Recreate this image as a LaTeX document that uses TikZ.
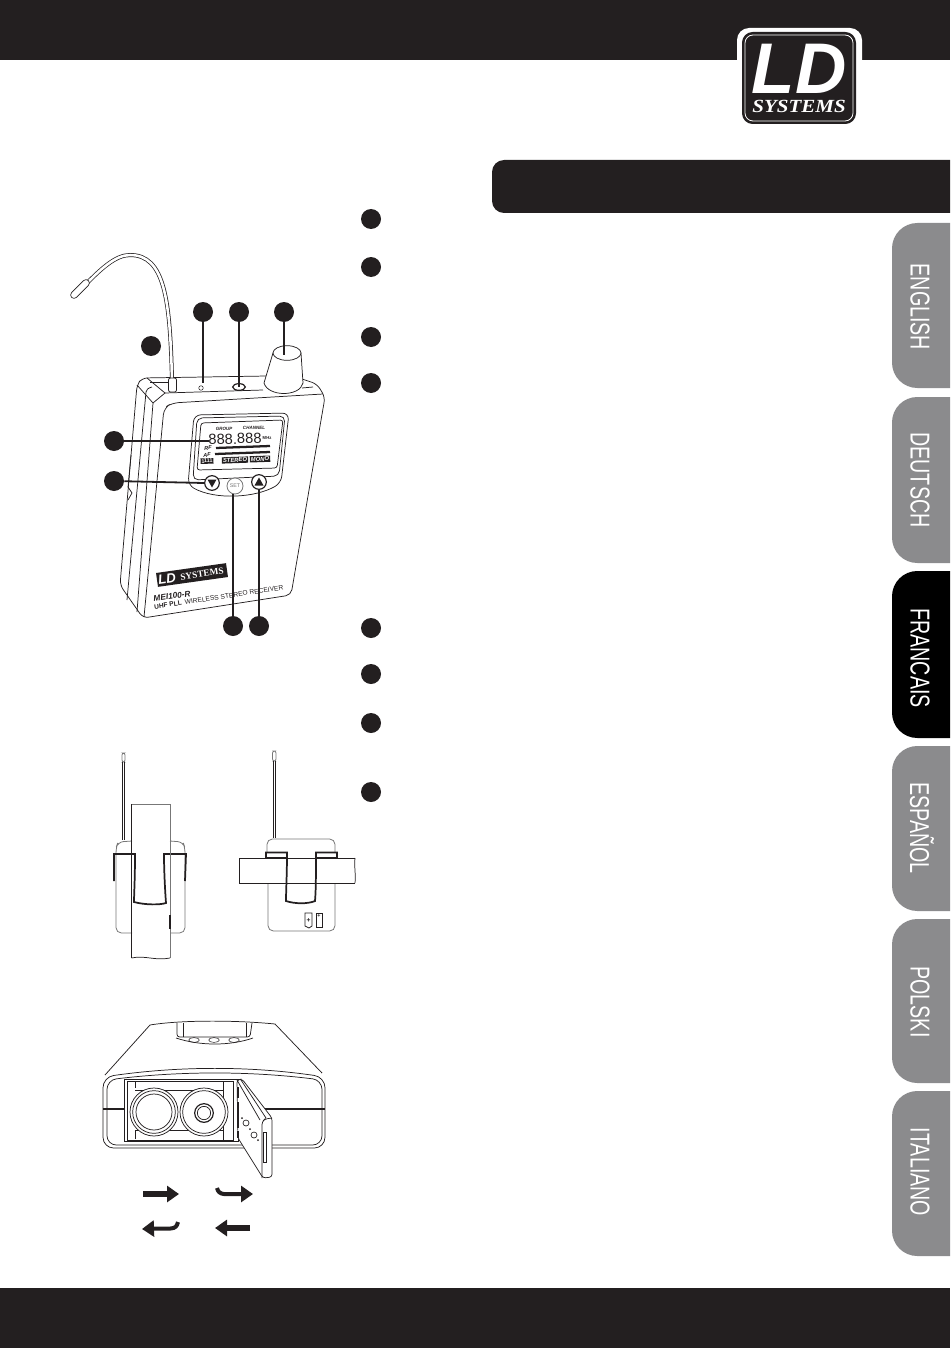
\documentclass[tikz,border=0pt]{standalone}
\usepackage{fontspec}
\setmainfont{Liberation Sans}
\newfontfamily\serifface{Liberation Serif}
\usetikzlibrary{positioning, calc, arrows.meta, shapes.geometric}
\definecolor{ink}{HTML}{231F20}
\definecolor{tabgray}{HTML}{8B8B8D}
\definecolor{wiregray}{HTML}{777777}
\tikzset{bullet/.style={circle, fill=ink, minimum size=15pt, inner sep=0pt}}
\tikzset{leader/.style={draw=ink, line width=1.35pt}}
\tikzset{thinline/.style={draw=ink, line width=.55pt}}
\tikzset{grayline/.style={draw=wiregray, line width=.6pt}}
\tikzset{clipline/.style={draw=ink, line width=1.3pt}}
\tikzset{tablabel/.style={rotate=-90, inner sep=0pt, text=white}}
\tikzset{tiny/.style={inner sep=0pt, text=ink}}
\tikzset{blockarrow/.style={draw=ink, line width=4pt, -{Triangle[length=9pt, width=12pt]}}}
\tikzset{hookarrow/.style={draw=ink, line width=3pt, -{Triangle[length=9pt, width=12pt]}}}
\newcommand{\tabword}[1]{\scalebox{.72}[1]{\fontsize{20.5}{20.5}\selectfont #1}}
\newcommand{\sizedtext}[2]{\fontsize{#1}{#1}\selectfont #2}

\begin{document}
\begin{tikzpicture}[x=.75pt, y=-.75pt]
      \useasboundingbox (0,0) rectangle (950,1348);

      % bars
      \fill[ink] (0,0) rectangle (950,60);
      \fill[ink] (0,1288) rectangle (950,1348);
      \fill[ink] (950,160) [rounded corners=9pt] -- (492,160) -- (492,213) [sharp corners] -- (950,213) -- cycle;

      % logo
      \fill[white, rounded corners=9pt] (737,28) rectangle (862,129);
      \fill[ink, rounded corners=8pt] (742,32) rectangle (856,124);
      \draw[white, line width=.6pt, rounded corners=6pt] (745,35) rectangle (853,121);
      \node[inner sep=0pt, text=white] (logold) at (799,68.5) {\resizebox{71pt}{37pt}{\bfseries\itshape LD}};
      \node[inner sep=0pt, text=white, below=5pt of logold] (logosys) {\resizebox{70pt}{9.2pt}{\serifface\bfseries\itshape SYSTEMS}};

      % language tabs
      \fill[tabgray] (950,223) [rounded corners=19pt] -- (892,223) -- (892,388) [sharp corners] -- (950,388) -- cycle;
      \fill[tabgray] (950,397) [rounded corners=19pt] -- (892,397) -- (892,563) [sharp corners] -- (950,563) -- cycle;
      \fill[black] (950,571) [rounded corners=19pt] -- (892,571) -- (892,738) [sharp corners] -- (950,738) -- cycle;
      \fill[tabgray] (950,746) [rounded corners=19pt] -- (892,746) -- (892,911) [sharp corners] -- (950,911) -- cycle;
      \fill[tabgray] (950,919) [rounded corners=19pt] -- (892,919) -- (892,1083) [sharp corners] -- (950,1083) -- cycle;
      \fill[tabgray] (950,1091) [rounded corners=19pt] -- (892,1091) -- (892,1256) [sharp corners] -- (950,1256) -- cycle;
      \node[tablabel] (tab0) at (920,307) {\tabword{ENGLISH}};
      \node[tablabel] (tab1) at (920,480) {\tabword{DEUTSCH}};
      \node[tablabel] (tab2) at (920,658) {\tabword{FRANCAIS}};
      \node[tablabel] (tab3) at (922,828) {\tabword{ESPAÑOL}};
      \node[tablabel] (tab4) at (920,1002) {\tabword{POLSKI}};
      \node[tablabel] (tab5) at (920,1172) {\tabword{ITALIANO}};

      % right column of markers
      \node[bullet] (r0) at (371,219) {};
      \node[bullet] (r1) at (371,267) {};
      \node[bullet] (r2) at (371,337) {};
      \node[bullet] (r3) at (371,383) {};
      \node[bullet] (r4) at (371,628) {};
      \node[bullet] (r5) at (371,674) {};
      \node[bullet] (r6) at (371,723) {};
      \node[bullet] (r7) at (371,792) {};

      % receiver body
      \draw[thinline, rounded corners=4pt] (267,376) -- (142,378) -- (137,385) -- (120,585) -- (143,618) -- (291,595) -- (325,397) -- (317,384) -- (302,379);
      \draw[thinline] (131,455) -- (128,487) -- (132,493) -- (128,500);
      \draw[thinline] (152,387) .. controls (148,388) and (146,390) .. (146,392) -- (127,600);
      \draw[thinline] (137,385) -- (153,403) -- (137,612);
      \draw[thinline, rounded corners=5pt] (144,617) -- (164,408) -- (172,403) -- (323,394);
      \draw[thinline] (147,378) -- (165,393) -- (153,403);
      \draw[thinline] (165,393) -- (263,390);
      \draw[thinline] (150,382) -- (168,382);
      \draw[thinline] (302,388) -- (313,387);

      % antenna
      \draw[ink, line width=3pt] (172,380) .. controls (170,300) and (165,255) .. (130,255) .. controls (115,255) and (100,270) .. (85,285);
      \draw[white, line width=1.9pt] (172,381) .. controls (170,300) and (165,255) .. (130,255) .. controls (115,255) and (100,270) .. (85,285);
      \draw[ink, line width=5.6pt, line cap=round] (74,295) -- (86,283);
      \draw[white, line width=4.4pt, line cap=round] (74,295) -- (86,283);
      \draw[thinline, fill=white, rounded corners=1.5pt] (168.5,378) -- (168.5,392) -- (176.5,392) -- (176.5,378) -- cycle;

      % top of receiver
      \node[circle, draw=ink, inner sep=1.2pt] (hole) at (201,388) {};
      \node[ellipse, draw=ink, line width=.9pt, minimum width=9.5pt, minimum height=5pt, inner sep=0pt] (jack) at (239,387) {};
      \draw[thinline, fill=white] (264,383) -- (273,353) -- (301,353) -- (303,383) .. controls (300,397) and (268,397) .. (264,383) -- cycle;
      \node[ellipse, draw=ink, fill=white, line width=.55pt, minimum width=21pt, minimum height=11pt, inner sep=0pt] (knob) at (287,353) {};

      % control panel
      \draw[thinline, rounded corners=5pt] (194,415) -- (289,413) -- (281,483) .. controls (255,498) and (215,500) .. (188,485) -- cycle;
      \draw[thinline, rounded corners=4pt] (197,418) -- (285,416) -- (279,476) -- (193,480) -- cycle;
      \draw[thinline, rounded corners=2pt] (201,423) -- (283,420) -- (277,468) -- (197,470) -- cycle;
      \node[tiny, rotate=2] (lcddigits) at (235,439) {\sizedtext{11}{888.888}};
      \node[tiny, rotate=2, right=.5pt of lcddigits] (lcdmhz) {\sizedtext{3.2}{\bfseries MHz}};
      \node[tiny, rotate=2] (lcdgroup) at (224,429) {\sizedtext{3.4}{\bfseries\itshape GROUP}};
      \node[tiny, rotate=2] (lcdchannel) at (254,428) {\sizedtext{3.4}{\bfseries\itshape CHANNEL}};
      \node[tiny, rotate=2] (lcdrf) at (208,448) {\sizedtext{4.2}{\bfseries\itshape RF}};
      \node[tiny, rotate=2] (lcdaf) at (207,455) {\sizedtext{4.2}{\bfseries\itshape AF}};
      \draw[ink, line width=1.7pt] (216,448) -- (270,446);
      \draw[ink, line width=1.7pt] (215,454) -- (270,452);
      \node[fill=ink, inner sep=.7pt, text=white, rotate=2] (lcdbatt) at (207,461) {\sizedtext{4}{\bfseries 1111}};
      \node[fill=ink, inner sep=.8pt, text=white, rotate=2] (lcdstereo) at (235,460) {\sizedtext{4.4}{\bfseries\itshape STEREO}};
      \node[fill=ink, inner sep=.8pt, text=white, rotate=2] (lcdmono) at (260,459) {\sizedtext{4.4}{\bfseries\itshape MONO}};
      \node[circle, draw=ink, line width=.9pt, fill=white, minimum size=11pt, inner sep=0pt] (btndown) at (212,483) {};
      \node[circle, draw=wiregray, line width=.6pt, fill=white, minimum size=12pt, inner sep=0pt, text=wiregray] (btnset) at (235,486) {\sizedtext{4}{SET}};
      \node[circle, draw=ink, line width=.9pt, fill=white, minimum size=11pt, inner sep=0pt] (btnup) at (259,482) {};
      \fill[ink] (207.5,479.5) -- (216.5,479.5) -- (212,487.5) -- cycle;
      \fill[ink] (254.5,485.5) -- (263.5,485.5) -- (259,477.5) -- cycle;

      % front printing
      \node[fill=ink, inner sep=0pt, minimum width=53pt, minimum height=10.5pt, rotate=8] (brand) at (192,575) {};
      \node[inner sep=0pt, text=white, rotate=8] (brandld) at (167,579) {\sizedtext{10}{\bfseries\itshape LD}};
      \node[inner sep=0pt, text=white, rotate=8] (brandsys) at (202,574) {\serifface\bfseries\sizedtext{7}{SYSTEMS}};
      \node[tiny, rotate=8] (model) at (172,596) {\sizedtext{6.2}{\bfseries\itshape MEI100-R}};
      \node[tiny, rotate=8] (uhf) at (168,605) {\sizedtext{4.9}{\bfseries UHF PLL}};
      \node[tiny, rotate=8.5] (wireless) at (234,595) {\sizedtext{5}{WIRELESS STEREO RECEIVER}};

      % markers round the receiver
      \node[bullet] (d0) at (151,346) {};
      \node[bullet] (d1) at (203,312) {};
      \node[bullet] (d2) at (239,312) {};
      \node[bullet] (d3) at (284,312) {};
      \node[bullet] (d4) at (114,441) {};
      \node[bullet] (d5) at (114,481) {};
      \node[bullet] (d6) at (233,626) {};
      \node[bullet] (d7) at (259,626) {};
      \coordinate (e1) at (203,383);
      \coordinate (e3) at (284,355);
      \coordinate (e4) at (209,441);
      \draw[leader] (d1) -- (e1);
      \draw[leader] (d2) -- (jack.center);
      \draw[leader] (d3) -- (e3);
      \draw[leader] (d4) -- (e4);
      \draw[leader] (d5) -- (btndown.west);
      \draw[leader] (d6) -- (btnset.south -| d6);
      \draw[leader] (d7) -- (btnup.south -| d7);

      % belt clip, strap behind
      \draw[grayline, rounded corners=4pt] (132,933) -- (116,933) -- (116,848) -- (118,842) -- (132,841);
      \draw[grayline, rounded corners=4pt] (170,933) -- (185,933) -- (185,848) -- (183,842) -- (170,841);
      \draw[grayline, fill=white, rounded corners=1.5pt] (122,753) rectangle (125,762);
      \draw[clipline, line width=.9pt] (122.6,762) -- (122.6,840);
      \draw[clipline, line width=.9pt] (124.6,762) -- (124.6,840);
      \draw[clipline] (114,881) -- (114,854) -- (135,854) .. controls (135,880) and (134,895) .. (134,902) .. controls (145,905) and (160,905) .. (166,903) .. controls (165,890) and (164,870) .. (164,854) -- (186,854) -- (185,881);
      \draw[thinline] (131.5,804) -- (131.5,958);
      \draw[grayline] (131.5,804) -- (170,804) -- (170,958);
      \draw[thinline] (131.5,958) .. controls (145,955) and (155,961) .. (170,958);
      \draw[clipline] (170,915) -- (170,929);

      % belt clip, strap across
      \draw[grayline, fill=white, rounded corners=1.5pt] (272.5,751) rectangle (276,761);
      \draw[clipline, line width=.9pt] (273.4,761) -- (273.4,838);
      \draw[clipline, line width=.9pt] (275.4,761) -- (275.4,838);
      \draw[grayline, rounded corners=4pt] (267,853) -- (267,839) -- (335,839) -- (335,853);
      \draw[grayline, rounded corners=4pt] (268,883) -- (268,931) -- (335,931) -- (335,883);
      \draw[thinline] (355,858) -- (239,858) -- (239,883) -- (355,883);
      \draw[thinline] (355,858) .. controls (354,866) and (356,875) .. (355,883);
      \draw[clipline] (266,858) -- (266,852.5) -- (287,852.5) .. controls (287,875) and (286,890) .. (286,901) .. controls (295,904) and (308,904) .. (315,901) .. controls (316,890) and (316,870) .. (316,852.5) -- (337,852.5) -- (337,858);
      \draw[clipline] (266,857.5) -- (287,857.5);
      \draw[clipline] (316,857.5) -- (337,857.5);
      \draw[thinline] (305,913) -- (305,926) -- (309,928) -- (312,926) -- (312,913) -- cycle;
      \draw[thinline] (316,913) rectangle (322,927);
      \node[tiny] (cellplus) at (308.5,921) {\sizedtext{5}{\bfseries +}};
      \node[tiny] (cellminus) at (319,916) {\sizedtext{4}{\bfseries +}};

      % battery view
      \draw[thinline] (105,1075) -- (150,1025) .. controls (180,1020) and (235,1020) .. (275,1024) -- (322,1073);
      \draw[thinline, rounded corners=2pt] (177,1023) -- (177,1037) -- (250,1037) -- (252,1023);
      \draw[thinline] (183,1023) -- (183,1037);
      \draw[thinline] (246,1023) -- (246,1037);
      \draw[thinline, rounded corners=5pt] (176,1038) .. controls (200,1046) and (230,1046) .. (253,1038);
      \node[ellipse, draw=ink, minimum width=8pt, minimum height=3.6pt, inner sep=0pt] (btna) at (194,1040) {};
      \node[ellipse, draw=ink, minimum width=8pt, minimum height=3.6pt, inner sep=0pt] (btnb) at (214,1040) {};
      \node[ellipse, draw=ink, minimum width=8pt, minimum height=3.6pt, inner sep=0pt] (btnc) at (234,1040) {};
      \draw[thinline, rounded corners=8pt] (103,1077) .. controls (180,1066) and (250,1066) .. (325,1077) -- (325,1148) -- (103,1148) -- cycle;
      \draw[thinline, rounded corners=7pt] (107,1080) .. controls (180,1071) and (250,1071) .. (322,1080) -- (322,1145) -- (107,1145) -- cycle;
      \draw[ink, line width=1pt] (103,1109) -- (124,1109);
      \draw[ink, line width=1pt] (265,1109) -- (325,1109);
      \draw[thinline, fill=white] (124,1079) rectangle (238,1141);
      \draw[thinline] (127,1081) rectangle (233,1140);
      \draw[thinline] (135,1081) -- (135,1088);
      \draw[thinline] (135,1139) -- (135,1130);
      \draw[thinline] (135,1130) -- (223,1130);
      \draw[thinline] (135,1090) -- (223,1090);
      \draw[thinline] (223,1081) -- (223,1140);
      \node[circle, draw=ink, fill=white, line width=.55pt, minimum size=36pt, inner sep=0pt] (cell0) at (154,1112) {};
      \node[circle, draw=ink, line width=.55pt, minimum size=32pt, inner sep=0pt] (cell0in) at (154,1112) {};
      \node[circle, draw=ink, line width=.55pt, minimum size=27pt, inner sep=0pt] (cell0top) at (154,1112) {};
      \node[circle, draw=ink, fill=white, line width=.55pt, minimum size=36pt, inner sep=0pt] (cell1) at (204,1112) {};
      \node[circle, draw=ink, line width=.55pt, minimum size=32pt, inner sep=0pt] (cell1in) at (204,1112) {};
      \node[circle, draw=ink, line width=.9pt, minimum size=14pt, inner sep=0pt] (cell1pole) at (204,1113) {};
      \node[circle, draw=ink, line width=.55pt, minimum size=10pt, inner sep=0pt] (cell1tip) at (204,1113) {};
      \draw[thinline, fill=white, rounded corners=2pt] (237,1080) -- (242,1079) -- (272,1118) -- (272,1177) -- (263,1178) -- (238,1138) -- cycle;
      \draw[thinline] (237,1080) -- (260,1120);
      \draw[thinline] (241,1080) -- (266,1118);
      \draw[thinline, rounded corners=2pt] (262,1178) -- (262,1122) -- (265,1119) -- (272,1118);
      \draw[clipline, line width=1pt] (238,1087) -- (238,1098);
      \draw[clipline, line width=1.4pt] (238,1102) -- (238,1128);
      \draw[clipline, line width=1pt] (238,1131) -- (238,1138);
      \draw[thinline] (263,1132) rectangle (266,1162);
      \node[circle, draw=ink, line width=.5pt, minimum size=4.5pt, inner sep=0pt] (door0) at (246,1123) {};
      \node[circle, draw=ink, line width=.5pt, minimum size=4.5pt, inner sep=0pt] (door1) at (254,1135) {};
      \fill[ink] (250,1129) circle (1);
      \fill[ink] (242,1118) circle (1);
      \fill[ink] (258,1140) circle (1);

      % insertion arrows
      \coordinate (a0) at (143,1194);
      \coordinate (b0) at (179,1194);
      \coordinate (a1) at (217,1188);
      \coordinate (b1) at (253,1194);
      \coordinate (a2) at (178,1222);
      \coordinate (b2) at (142,1229);
      \coordinate (a3) at (250,1228);
      \coordinate (b3) at (215,1228);
      \draw[blockarrow] (a0) -- (b0);
      \draw[hookarrow] (a1) .. controls (219,1196) and (225,1194) .. (b1);
      \draw[hookarrow] (a2) .. controls (176,1231) and (170,1228) .. (b2);
      \draw[blockarrow] (a3) -- (b3);
    \end{tikzpicture}
\end{document}
